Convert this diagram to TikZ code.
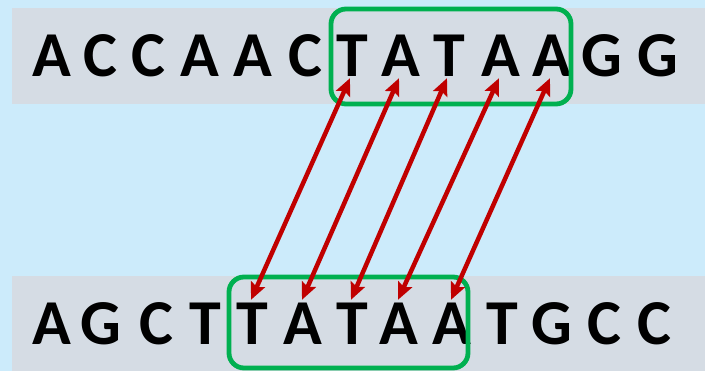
\documentclass[tikz,border=0pt]{standalone}
\usepackage{fontspec}
\setmainfont{Carlito}
\usepackage{xcolor}
\usepackage{tikz}
\usetikzlibrary{arrows.meta,positioning,calc}

\definecolor{skyback}{HTML}{CCEBFB}
\definecolor{bandgray}{HTML}{D5DCE4}
\definecolor{boxgreen}{HTML}{00B050}
\definecolor{pairred}{HTML}{C00000}

\begin{document}
\begin{tikzpicture}[
    x=1pt, y=-1pt,
    base/.style={inner sep=1pt, anchor=base, text height=41pt, text depth=0pt,
        font=\fontsize{64}{70}\selectfont\bfseries},
    band/.style={fill=bandgray, draw=none},
    site/.style={draw=boxgreen, line width=4.8pt, rounded corners=15pt},
    tip/.tip={Stealth[length=17pt,width=15pt,inset=3pt]},
    pair/.style={tip-tip, draw=pairred, line width=4.5pt}
]

% Background
\fill[skyback] (0,0) rectangle (705,371);
\useasboundingbox (0,0) rectangle (705,371);

% Grey bands
\fill[band] (12,8) rectangle (705,104);
\fill[band] (12,276) rectangle (705,371);

% Top strand
\foreach \ch/\x [count=\i] in {A/52,C/100,C/148,A/200,A/253,C/305,T/352,A/401,T/449,A/501,A/552,G/602,G/658}
    \node[base] (t\i) at (\x,77) {\ch};

% Bottom strand
\foreach \ch/\x [count=\i] in {A/52,G/101,C/156,T/205,T/252,A/303,T/352,A/399,A/452,T/502,G/552,C/604,C/654}
    \node[base] (b\i) at (\x,345) {\ch};

% Binding sites
\draw[site] (331,9) rectangle (571,104);
\draw[site] (229,277) rectangle (468,368);

% Base pairing
\foreach \i/\j in {5/7,6/8,7/9,8/10,9/11}
    \draw[pair] ($(b\i.north)+(-1,-3)$) -- ($(t\j.south)+(-2,0)$);

\end{tikzpicture}
\end{document}
